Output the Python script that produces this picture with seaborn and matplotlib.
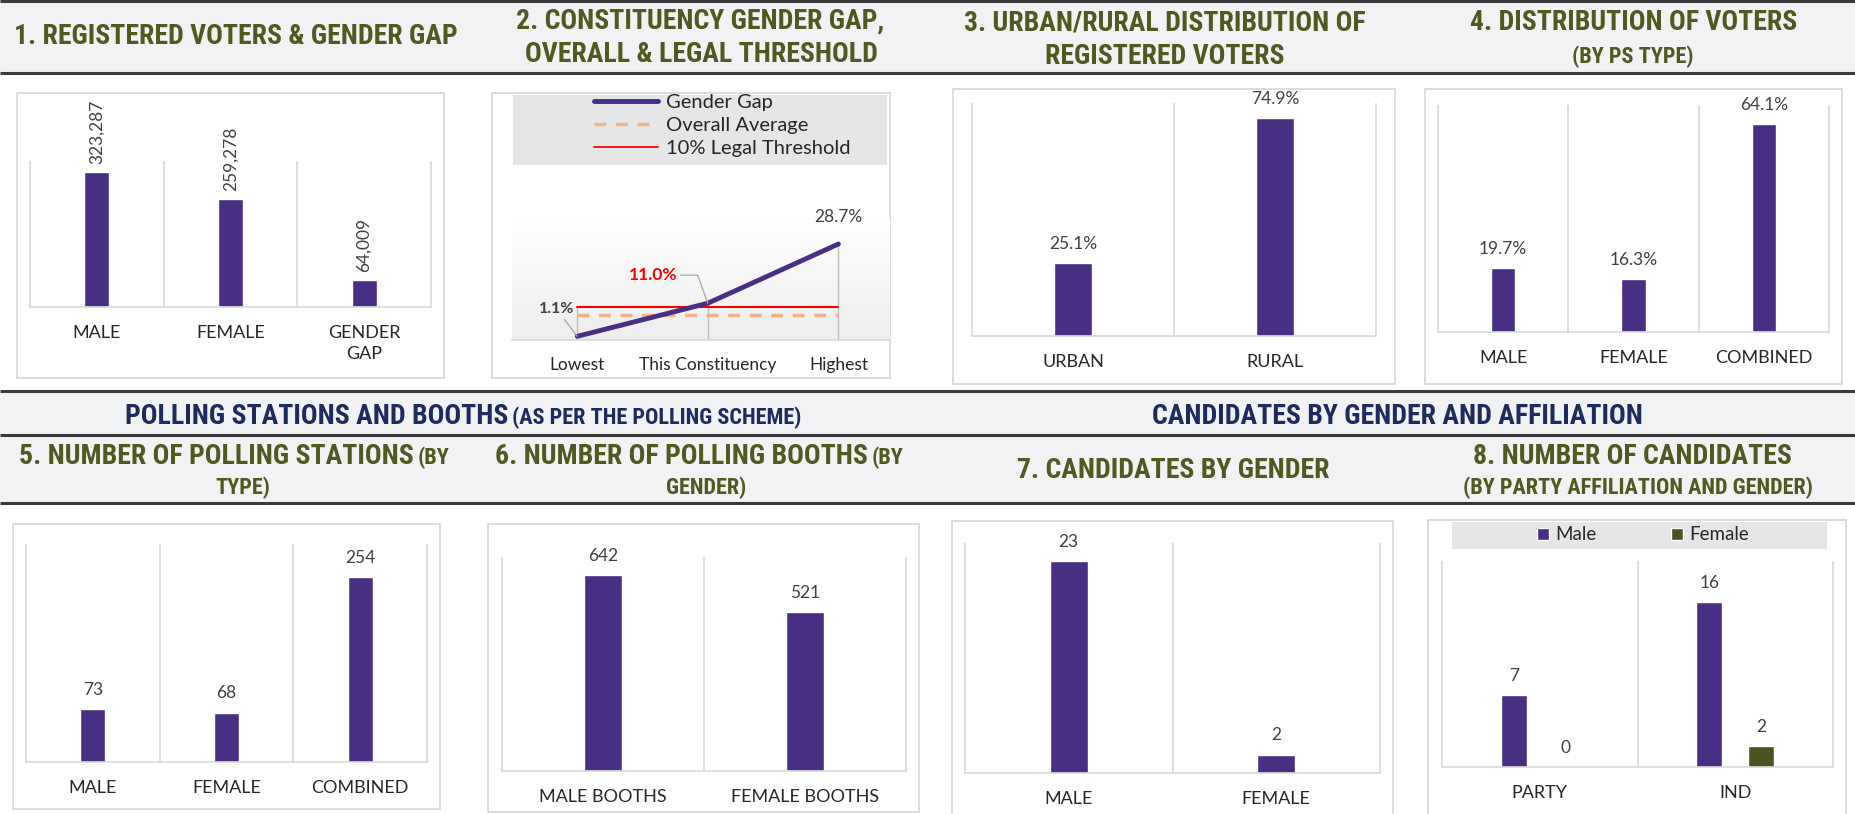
import numpy as np
import pandas as pd
import matplotlib
matplotlib.use("Agg")
import matplotlib.pyplot as plt
import seaborn as sns
from matplotlib import font_manager
from matplotlib.patches import Rectangle, Patch
from matplotlib.lines import Line2D
from matplotlib.colors import LinearSegmentedColormap

# ---------------- data ----------------
p1_cats = ["MALE", "FEMALE", "GENDER\nGAP"]
p1_vals = [323287, 259278, 64009]

p2_cats = ["Lowest", "This Constituency", "Highest"]
p2_gap = [1.1, 11.0, 28.7]
p2_avg = [7.6, 7.6, 7.6]
p2_threshold = [10.0, 10.0, 10.0]

p3_cats = ["URBAN", "RURAL"]
p3_vals = [25.1, 74.9]

p4_cats = ["MALE", "FEMALE", "COMBINED"]
p4_vals = [19.7, 16.3, 64.1]

p5_cats = ["MALE", "FEMALE", "COMBINED"]
p5_vals = [73, 68, 254]

p6_cats = ["MALE BOOTHS", "FEMALE BOOTHS"]
p6_vals = [642, 521]

p7_cats = ["MALE", "FEMALE"]
p7_vals = [23, 2]

p8_cats = ["PARTY", "IND"]
p8_male = [7, 16]
p8_female = [0, 2]

# ---------------- style ----------------
W, H = 1855, 814
PURPLE = "#482F83"
OLIVE = "#4B5320"
TITLE_C = "#4E5A1F"
NAVY = "#1F2A5E"
GRID = "#D9D9D9"
TXT = "#262626"
VAL = "#404040"

sns.set_theme(style="white")
BODY = ["Lato", "DejaVu Sans"]
plt.rcParams["font.family"] = BODY

names = {f.name for f in font_manager.fontManager.ttflist}
if "Liberation Sans Narrow" in names:
    TF, TS = "Liberation Sans Narrow", 1.0
elif "Roboto Condensed" in names:
    TF, TS = "Roboto Condensed", 0.95
else:
    TF, TS = "DejaVu Sans", 0.78
BIG = 17.5 * TS * 1.2
SMALL = 13.0 * TS * 1.3

fig = plt.figure(figsize=(W / 100, H / 100), dpi=100)
fig.patch.set_facecolor("white")

bg = fig.add_axes([0, 0, 1, 1])
bg.set_xlim(0, W)
bg.set_ylim(H, 0)
bg.axis("off")


def band(y0, y1):
    bg.add_patch(Rectangle((0, y0), W, y1 - y0, fc="#F1F2F4", ec="none"))


def hline(y):
    bg.plot([0, W], [y, y], color="#3A3A3A", lw=2.2, solid_capstyle="butt")


def box(x0, y0, x1, y1):
    bg.add_patch(Rectangle((x0, y0), x1 - x0, y1 - y0, fc="white", ec=GRID, lw=1.3))


band(0, 73)
hline(1)
hline(73)
band(391, 503)
hline(391)
hline(435)
hline(503)

for b in [(17, 93, 444, 378), (492, 93, 890, 378), (953, 89, 1395, 384),
          (1425, 89, 1842, 384), (13, 524, 440, 809), (488, 524, 919, 812),
          (952, 521, 1393, 840), (1428, 520, 1846, 840)]:
    box(*b)

# legend bands
bg.add_patch(Rectangle((513, 95), 887 - 513, 70, fc="#E5E6E8", ec="none"))
bg.add_patch(Rectangle((1452, 522), 1827 - 1452, 27, fc="#E5E6E8", ec="none"))


def title(x, y, s, size, color=TITLE_C, ha="center", va="center"):
    bg.text(x, y, s, ha=ha, va=va, fontsize=size, fontweight="bold",
            color=color, family=[TF, "DejaVu Sans"])


title(236, 36, "1. REGISTERED VOTERS & GENDER GAP", BIG)
title(700, 21, "2. CONSTITUENCY GENDER GAP,", BIG)
title(701, 55, "OVERALL & LEGAL THRESHOLD", BIG)
title(1165, 23, "3. URBAN/RURAL DISTRIBUTION OF", BIG)
title(1165, 57, "REGISTERED VOTERS", BIG)
title(1634, 23, "4. DISTRIBUTION OF VOTERS", BIG)
title(1633, 57, "(BY PS TYPE)", SMALL)

title(508, 424, "POLLING STATIONS AND BOOTHS", BIG, color=NAVY, ha="right", va="baseline")
title(512, 424, "(AS PER THE POLLING SCHEME)", SMALL, color=NAVY, ha="left", va="baseline")
title(1397, 417, "CANDIDATES BY GENDER AND AFFILIATION", BIG, color=NAVY)

title(414, 464, "5. NUMBER OF POLLING STATIONS", BIG, ha="right", va="baseline")
title(418, 464, "(BY", SMALL, ha="left", va="baseline")
title(243, 488, "TYPE)", SMALL)
title(868, 464, "6. NUMBER OF POLLING BOOTHS", BIG, ha="right", va="baseline")
title(872, 464, "(BY", SMALL, ha="left", va="baseline")
title(706, 488, "GENDER)", SMALL)
title(1173, 471, "7. CANDIDATES BY GENDER", BIG)
title(1632, 457, "8. NUMBER OF CANDIDATES", BIG)
title(1638, 488, "(BY PARTY AFFILIATION AND GENDER)", SMALL)


def mkax(l, t, r, b):
    ax = fig.add_axes([l / W, 1 - b / H, (r - l) / W, (b - t) / H])
    ax.patch.set_alpha(0)
    return ax


def style_ax(ax, n, ymax):
    ax.set_xlim(-0.5, n - 0.5)
    ax.set_ylim(0, ymax)
    for sp in ["top", "right", "left"]:
        ax.spines[sp].set_visible(False)
    ax.spines["bottom"].set_color(GRID)
    ax.spines["bottom"].set_linewidth(1.2)
    ax.vlines(np.arange(n + 1) - 0.5, 0, ymax, color=GRID, lw=1.2, zorder=0, clip_on=False)
    ax.set_yticks([])
    ax.tick_params(axis="x", length=0, pad=13, labelsize=13, labelcolor=TXT)
    ax.set_xlabel("")
    ax.set_ylabel("")
    for lbl in ax.get_xticklabels():
        lbl.set_linespacing(1.35)


def bar_panel(rect, cats, vals, ymax, fmt, rot=False, pad=8):
    ax = mkax(*rect)
    df = pd.DataFrame({"cat": cats, "val": vals})
    sns.barplot(data=df, x="cat", y="val", ax=ax, color=PURPLE, width=0.185,
                saturation=1, errorbar=None)
    style_ax(ax, len(cats), ymax)
    ax.bar_label(ax.containers[0], labels=[fmt(v) for v in vals], padding=pad,
                 rotation=90 if rot else 0, fontsize=12.5, color=VAL)
    return ax


bar_panel((30, 161, 431, 307), p1_cats, p1_vals, 350000, lambda v: f"{v:,}", rot=True, pad=6)
bar_panel((972, 103, 1376, 336), p3_cats, p3_vals, 80, lambda v: f"{v:.1f}%")
bar_panel((1438, 105, 1829, 332), p4_cats, p4_vals, 70, lambda v: f"{v:.1f}%")
bar_panel((26, 544, 427, 762), p5_cats, p5_vals, 300, lambda v: f"{v}")
bar_panel((502, 557, 906, 771), p6_cats, p6_vals, 700, lambda v: f"{v}")
bar_panel((965, 543, 1380, 773), p7_cats, p7_vals, 25, lambda v: f"{v}")

# ---------------- panel 8 ----------------
ax8 = mkax(1442, 561, 1833, 767)
df8 = pd.DataFrame({
    "type": p8_cats + p8_cats,
    "count": p8_male + p8_female,
    "gender": ["Male"] * len(p8_cats) + ["Female"] * len(p8_cats),
})
sns.barplot(data=df8, x="type", y="count", hue="gender", palette=[PURPLE, OLIVE],
            width=0.532, gap=0.5, saturation=1, errorbar=None, legend=False, ax=ax8)
style_ax(ax8, len(p8_cats), 20)
for cont in ax8.containers:
    ax8.bar_label(cont, labels=[f"{int(b.get_height())}" for b in cont], padding=8,
                  fontsize=12.5, color=VAL)
fig.legend([Patch(fc=PURPLE), Patch(fc=OLIVE)], ["Male", "Female"], loc="center",
           bbox_to_anchor=(1643 / W, 1 - 535 / H), ncol=2, frameon=False, fontsize=13.5,
           handlelength=0.65, handleheight=0.65, handletextpad=0.3, columnspacing=4.0,
           borderpad=0, labelcolor=TXT)

# ---------------- panel 2 ----------------
ax2 = mkax(512, 175, 890, 340)
px_per = 3.345
ymax2 = (340 - 175) / px_per
x2 = np.arange(len(p2_cats))
xl = (-0.497, 2.395)
grad = np.linspace(0, 1, 256).reshape(-1, 1)
ax2.imshow(grad, extent=[xl[0], xl[1], 0, 36], aspect="auto", origin="lower",
           cmap=LinearSegmentedColormap.from_list("g", ["#EDEDED", "#FFFFFF"]), zorder=0)
tops = np.maximum.reduce([np.array(p2_gap), np.array(p2_avg), np.array(p2_threshold)])
ax2.vlines(x2, 0, tops, color="#BFBFBF", lw=1.0, zorder=1)
sns.lineplot(x=x2, y=p2_threshold, color="#FF0000", lw=1.5, ax=ax2, zorder=2)
sns.lineplot(x=x2, y=p2_avg, color="#F4B183", lw=2.5, ax=ax2, zorder=2)
ax2.lines[-1].set_dashes([3.4, 2.8])
sns.lineplot(x=x2, y=p2_gap, color=PURPLE, lw=3.5, ax=ax2, zorder=3,
             solid_capstyle="round")
ax2.set_xlim(*xl)
ax2.set_ylim(0, ymax2)
for sp in ["top", "right", "left"]:
    ax2.spines[sp].set_visible(False)
ax2.spines["bottom"].set_color(GRID)
ax2.spines["bottom"].set_linewidth(1.2)
ax2.set_yticks([])
ax2.set_xticks(x2)
ax2.set_xticklabels(p2_cats)
ax2.set_xticks([-0.5, 0.5, 1.5], minor=True)
ax2.tick_params(axis="x", which="major", length=0, pad=12, labelsize=12.5, labelcolor=TXT)
ax2.tick_params(axis="x", which="minor", length=5, width=1.2, color=GRID, direction="out")
ax2.set_xlabel("")
ax2.set_ylabel("")

ax2.annotate(f"{p2_gap[0]:.1f}%", xy=(x2[0], p2_gap[0]), xytext=(-15, 19.5),
             textcoords="offset points", ha="center", va="center", fontsize=11.5,
             fontweight="bold", color=VAL,
             arrowprops=dict(arrowstyle="-", color="#A6A6A6", lw=0.9, shrinkA=0, shrinkB=0))
ax2.annotate(f"{p2_gap[1]:.1f}%", xy=(x2[1], p2_gap[1]), xytext=(-39.6, 20.2),
             textcoords="offset points", ha="center", va="center", fontsize=12.5,
             fontweight="bold", color="#FF0000",
             arrowprops=dict(arrowstyle="-", color="#A6A6A6", lw=0.9, shrinkA=0, shrinkB=0,
                             relpos=(1, 0.5),
                             connectionstyle="angle,angleA=0,angleB=110,rad=0"))
ax2.annotate(f"{p2_gap[2]:.1f}%", xy=(x2[2], p2_gap[2]), xytext=(0, 19.5),
             textcoords="offset points", ha="center", va="center", fontsize=12.5, color=VAL)

leg_handles = [Line2D([], [], color=PURPLE, lw=3.5),
               Line2D([], [], color="#F4B183", lw=2.5, dashes=(3.4, 2.8)),
               Line2D([], [], color="#FF0000", lw=1.3)]
fig.legend(leg_handles, ["Gender Gap", "Overall Average", "10% Legal Threshold"],
           loc="upper left", bbox_to_anchor=(594 / W, 1 - 94 / H), frameon=False,
           fontsize=14.5, handlelength=3.2, handletextpad=0.4, labelspacing=0.3,
           borderpad=0, borderaxespad=0, labelcolor=TXT)

fig.savefig("out.png", dpi=100)
